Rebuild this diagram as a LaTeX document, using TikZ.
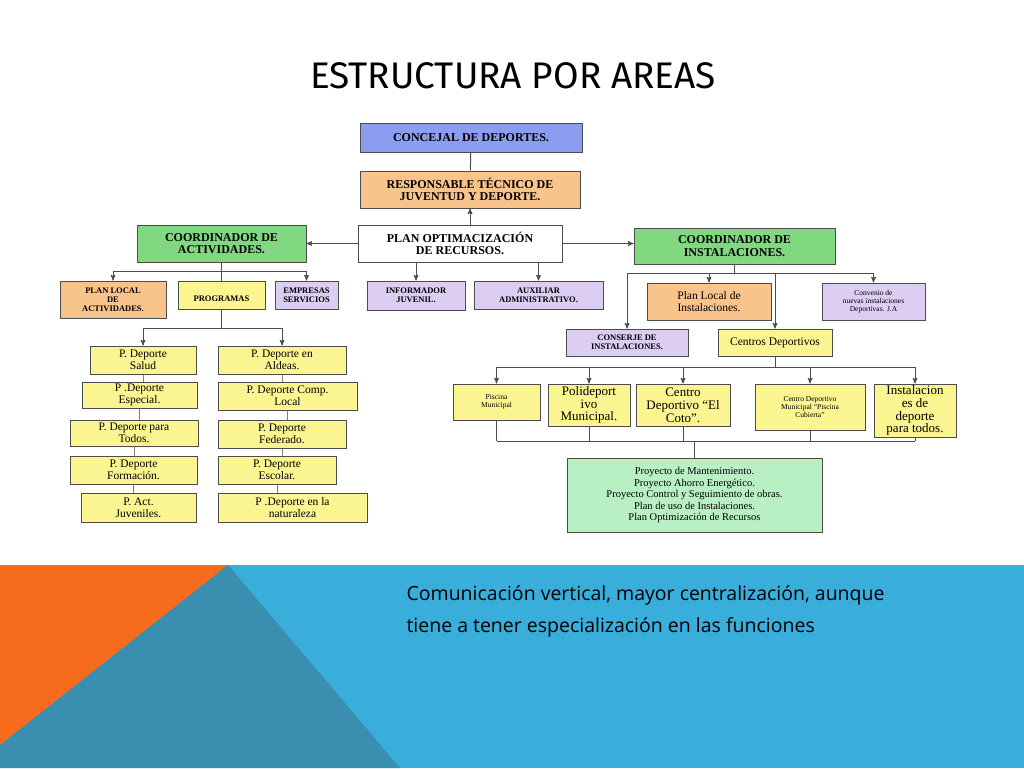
\documentclass[tikz,border=0pt]{standalone}
\usepackage{fontspec}
\setmainfont{Liberation Serif}
\newfontfamily\titlefont{Fira Sans}
\newfontfamily\bodyfont{Open Sans}
\usepackage{tikz}
\usetikzlibrary{positioning}
\usetikzlibrary{arrows}

\definecolor{boxblue}{HTML}{8C9CEE}
\definecolor{boxorange}{HTML}{F8C48C}
\definecolor{boxgreen}{HTML}{80D880}
\definecolor{boxlime}{HTML}{B8F0C4}
\definecolor{boxyellow}{HTML}{FAF590}
\definecolor{boxpurple}{HTML}{DCCDF2}
\definecolor{seablue}{HTML}{3AAEDB}
\definecolor{seateal}{HTML}{3A8FB0}
\definecolor{fireorange}{HTML}{F76B1C}

\tikzset{
  box/.style={draw=gray!60!black,line width=1pt,inner sep=0.5pt,align=center,
    font=\bfseries\fontsize{8.5}{9}\selectfont},
  bigbox/.style={box,font=\bfseries\fontsize{12}{12.5}\selectfont},
  plainbox/.style={box,font=\fontsize{11.5}{12}\selectfont},
  tinybox/.style={box,font=\fontsize{7.5}{8}\selectfont},
  largebox/.style={box,font=\fontsize{13}{12.8}\selectfont},
  link/.style={draw=gray!60!black,line width=1pt}
}

\begin{document}
\begin{tikzpicture}[x=1pt,y=-1pt,>=stealth',auto]
  \useasboundingbox (0,0) rectangle (1024,768);
  % lower band
  \fill[seablue] (0,565) rectangle (1024,768);
  \fill[fireorange] (0,565) -- (228,565) -- (0,745) -- cycle;
  \fill[seateal] (228,565) -- (400,768) -- (0,768) -- (0,745) -- cycle;
  \node[anchor=base,font=\titlefont\fontsize{37}{40}\selectfont] (title) at (513,88) {ESTRUCTURA POR AREAS};
  \node[anchor=base west,align=left,font=\bodyfont\fontsize{19.5}{32}\selectfont] (note) at (403,632)
    {Comunicación vertical, mayor centralización, aunque\\tiene a tener especialización en las funciones};

  % top
  \node[bigbox,fill=boxblue,minimum width=222,minimum height=29]   (Concejal)  at (471,137.5) {CONCEJAL DE DEPORTES.};
  \node[bigbox,fill=boxorange,minimum width=220,minimum height=37] (Resp)      at (470,189.5) {RESPONSABLE TÉCNICO DE\\JUVENTUD Y DEPORTE.};
  \node[bigbox,fill=white,minimum width=204,minimum height=37]     (Plan)      at (460,243.5) {PLAN OPTIMACIZACIÓN\\DE RECURSOS.};
  \node[bigbox,fill=boxgreen,minimum width=169,minimum height=37]  (CoordAct)  at (221.5,243.5) {COORDINADOR DE\\ACTIVIDADES.};
  \node[bigbox,fill=boxgreen,minimum width=201,minimum height=36]  (CoordInst) at (734.5,246) {COORDINADOR DE\\INSTALACIONES.};
  \node[box,fill=boxorange,minimum width=106,minimum height=37]    (PlanLoc)   at (113,299.5) {PLAN LOCAL\\DE\\ACTIVIDADES.};
  \node[box,fill=boxyellow,minimum width=87,minimum height=28,text height=14pt] (Prog) at (221.5,295) {PROGRAMAS};
  \node[box,fill=boxpurple,minimum width=63,minimum height=28]     (Empresas)  at (306.5,295) {EMPRESAS\\SERVICIOS};
  \node[box,fill=boxpurple,minimum width=98,minimum height=29]     (Informador) at (416,295.5) {INFORMADOR\\JUVENIL.};
  \node[box,fill=boxpurple,minimum width=129,minimum height=28]    (Auxiliar)  at (538.5,295) {AUXILIAR\\ADMINISTRATIVO.};

  % right side
  \node[plainbox,fill=boxorange,minimum width=124,minimum height=37] (PlanInst) at (709,301.5) {Plan Local de\\Instalaciones.};
  \node[tinybox,fill=boxpurple,minimum width=103,minimum height=37] (Convenio) at (873.5,301.5) {Convenio de\\nuevas instalaciones\\Deportivas. J.A};
  \node[box,fill=boxpurple,minimum width=122,minimum height=27]    (Conserje)  at (627,342.5) {CONSERJE DE\\INSTALACIONES.};
  \node[plainbox,fill=boxyellow,minimum width=114,minimum height=27] (Centros) at (775,342.5) {Centros Deportivos};
  \node[tinybox,fill=boxyellow,minimum width=87,minimum height=36] (Piscina) at (496.5,402) {Piscina\\Municipal};
  \node[largebox,fill=boxyellow,minimum width=82,minimum height=42] (Polid) at (589,405) {Polideport\\ivo\\Municipal.};
  \node[largebox,fill=boxyellow,minimum width=94,minimum height=42] (Coto) at (683,405) {Centro\\Deportivo ``El\\Coto''.};
  \node[tinybox,fill=boxyellow,minimum width=110,minimum height=46] (Cdm) at (810,407) {Centro Deportivo\\Municipal ``Piscina\\Cubierta''};
  \node[largebox,fill=boxyellow,minimum width=82,minimum height=53] (Instal) at (915,410.5) {Instalacion\\es de\\deporte\\para todos.};
  \node[box,font=\fontsize{10.5}{11.5}\selectfont,fill=boxlime,minimum width=255,minimum height=74] (Proyecto) at (694.5,495)
    {Proyecto de Mantenimiento.\\Proyecto Ahorro Energético.\\Proyecto Control y Seguimiento de obras.\\Plan de uso de Instalaciones.\\Plan Optimización de Recursos};

  % programas
  \node[plainbox,fill=boxyellow,minimum width=106,minimum height=28] (Salud)      at (143,360)   {P. Deporte\\Salud};
  \node[plainbox,fill=boxyellow,minimum width=115,minimum height=26] (Especial)   at (139.5,395) {P .Deporte\\Especial.};
  \node[plainbox,fill=boxyellow,minimum width=128,minimum height=26] (Todos)      at (134,433)   {P. Deporte para\\Todos.};
  \node[plainbox,fill=boxyellow,minimum width=127,minimum height=28] (Formacion)  at (133.5,470) {P. Deporte\\Formación.};
  \node[plainbox,fill=boxyellow,minimum width=115,minimum height=29] (ActJuv)     at (138.5,507.5) {P. Act.\\Juveniles.};
  \node[plainbox,fill=boxyellow,minimum width=128,minimum height=28] (Aldeas)     at (282,360)   {P. Deporte en\\Aldeas.};
  \node[plainbox,fill=boxyellow,minimum width=139,minimum height=28] (Comp)       at (287.5,396) {P. Deporte Comp.\\Local};
  \node[plainbox,fill=boxyellow,minimum width=128,minimum height=28] (Federado)   at (282,434)   {P. Deporte\\Federado.};
  \node[plainbox,fill=boxyellow,minimum width=118,minimum height=28] (Escolar)    at (277,470)   {P. Deporte\\Escolar.};
  \node[plainbox,fill=boxyellow,minimum width=149,minimum height=29] (Natura)     at (292.5,507.5) {P .Deporte en la\\naturaleza};

  % connectors
  \draw[link] (Concejal) -- (Resp);
  \draw[link,->] (Plan.north -| Resp) -- (Resp.south);
  \draw[link,->] (Plan) -- (CoordAct);
  \draw[link,->] (Plan.east) -- (CoordInst.west |- Plan.east);
  \draw[link,->] (Informador.north |- Plan.south) -- (Informador.north);
  \draw[link,->] (Auxiliar.north |- Plan.south) -- (Auxiliar.north);
  \draw[link] (CoordAct.south) -- ++(0,9) coordinate (ca);
  \draw[link,->] (ca) -| (PlanLoc.north);
  \draw[link,->] (ca) -| (Empresas.north);
  \draw[link] (CoordAct.south) -- (Prog.north);
  \draw[link] (Prog.south) -- ++(0,19) coordinate (pg);
  \draw[link,->] (pg) -| (Salud.north);
  \draw[link,->] (pg) -| (Aldeas.north);
  \foreach \a/\b in {Salud/Especial,Especial/Todos,Todos/Formacion,Formacion/ActJuv,
                     Aldeas/Comp,Comp/Federado,Federado/Escolar,Escolar/Natura}
    \draw[link,gray] (\a.south) -- (\a.south |- \b.north);
  \draw[link] (CoordInst.south) -- ++(0,9) coordinate (ci);
  \draw[link,->] (ci) -| (Conserje.north);
  \draw[link,->] (ci) -| (PlanInst.north);
  \draw[link,->] (ci) -| (Centros.north);
  \draw[link,->] (ci) -| (Convenio.north);
  \draw[link] (Centros.south) -- ++(0,11) coordinate (cd);
  \foreach \n in {Piscina,Polid,Coto,Cdm,Instal}
    \draw[link,->] (cd) -| (\n.north);
  \coordinate (bus) at (0,441);
  \foreach \n in {Piscina,Polid,Coto,Cdm,Instal}
    \draw[link] (\n.south) -- (\n.south |- bus);
  \draw[link] (Piscina.south |- bus) -- (Instal.south |- bus);
  \draw[link] (Proyecto.north |- bus) -- (Proyecto.north);
\end{tikzpicture}
\end{document}
